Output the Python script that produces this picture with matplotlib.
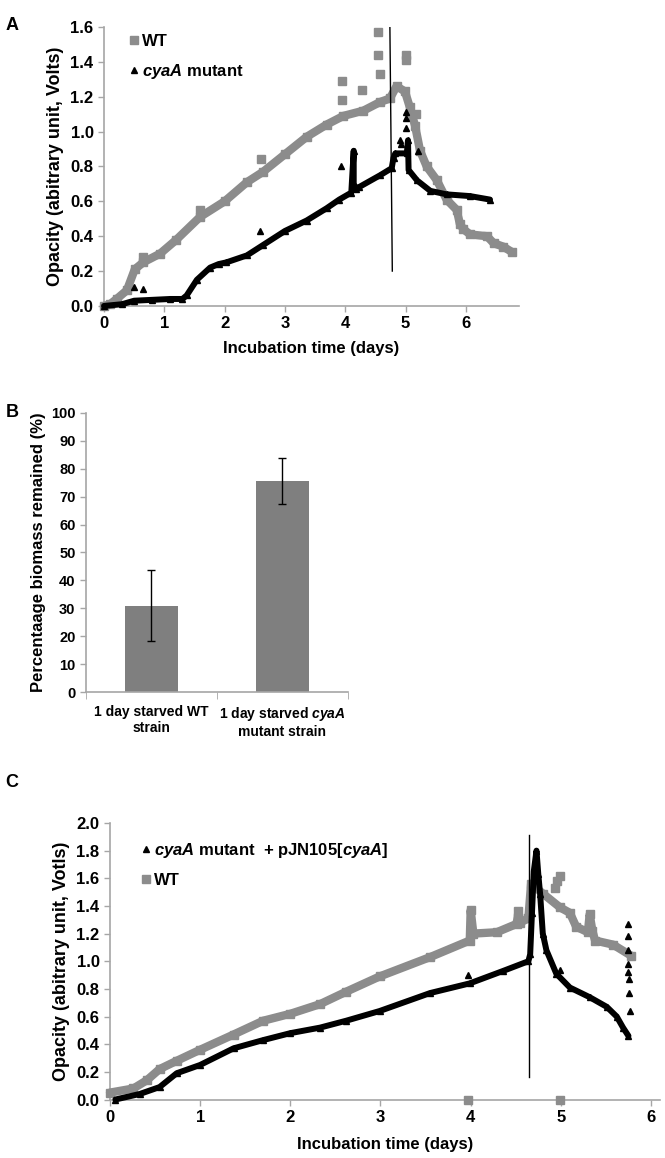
import matplotlib
import matplotlib.pyplot as plt
from matplotlib.lines import Line2D

matplotlib.use("Agg")

plt.rcParams["font.family"] = ["Liberation Sans", "DejaVu Sans"]
plt.rcParams["font.weight"] = "bold"
plt.rcParams["axes.labelweight"] = "bold"
plt.rcParams["mathtext.fontset"] = "custom"
plt.rcParams["mathtext.rm"] = "Liberation Sans:bold"
plt.rcParams["mathtext.it"] = "Liberation Sans:italic:bold"
plt.rcParams["mathtext.bf"] = "Liberation Sans:bold"

GREY = "#8c8c8c"
SPINE = "#a6a6a6"

# ---- panel A: opacity over time ----
wt_a_x = [0.0, 0.1, 0.21, 0.38, 0.51, 0.65, 0.93, 1.2, 1.59, 2.0, 2.37, 2.64, 3.0, 3.36,
          3.69, 3.97, 4.30, 4.58, 4.74, 4.85, 4.99, 5.07, 5.16, 5.24, 5.35, 5.52, 5.68,
          5.85, 5.90, 5.96, 6.07, 6.35, 6.46, 6.62, 6.76]
wt_a_y = [0.0, 0.01, 0.04, 0.09, 0.21, 0.25, 0.30, 0.38, 0.51, 0.60, 0.71, 0.77, 0.87, 0.97,
          1.04, 1.09, 1.12, 1.17, 1.19, 1.26, 1.23, 1.14, 1.03, 0.89, 0.80, 0.72, 0.61,
          0.55, 0.47, 0.44, 0.41, 0.40, 0.36, 0.34, 0.31]
wt_a_out_x = [0.65, 1.59, 2.61, 3.94, 3.95, 4.27, 4.55, 4.55, 4.58, 5.0, 5.0, 5.17]
wt_a_out_y = [0.28, 0.55, 0.84, 1.29, 1.18, 1.24, 1.57, 1.44, 1.33, 1.44, 1.41, 1.10]

cya_a_x = [0.0, 0.3, 0.5, 0.8, 1.1, 1.3, 1.37, 1.54, 1.76, 1.9, 2.03, 2.37, 2.64, 3.0,
           3.36, 3.69, 3.9, 4.1, 4.14, 4.14, 4.18, 4.22, 4.58, 4.77, 4.80, 4.83, 5.02,
           5.04, 5.05, 5.19, 5.41, 5.68, 6.07, 6.40]
cya_a_y = [0.0, 0.01, 0.03, 0.035, 0.04, 0.04, 0.06, 0.15, 0.22, 0.24, 0.25, 0.29, 0.35, 0.43,
           0.49, 0.56, 0.61, 0.65, 0.89, 0.70, 0.67, 0.68, 0.75, 0.79, 0.85, 0.875, 0.875,
           0.95, 0.78, 0.72, 0.66, 0.64, 0.63, 0.61]
cya_a_out_x = [0.5, 0.65, 2.59, 3.93, 4.9, 4.92, 5.0, 5.0, 5.0, 5.2]
cya_a_out_y = [0.11, 0.10, 0.43, 0.80, 0.95, 0.93, 1.11, 1.08, 1.02, 0.89]

a_vline_x = [4.74, 4.78]
a_vline_y = [1.6, 0.2]

# ---- panel B: biomass remaining ----
b_labels = ["1 day starved WT\nstrain", "1 day starved $\\mathit{cyaA}$\nmutant strain"]
b_values = [31.0, 75.6]
b_errors = [12.7, 8.4]

# ---- panel C: complemented strain ----
wt_c_x = [0.0, 0.26, 0.41, 0.55, 0.74, 1.0, 1.37, 1.70, 2.0, 2.33, 2.62, 2.99, 3.55, 3.99,
          4.0, 4.03, 4.29, 4.51, 4.53, 4.55, 4.64, 4.67, 4.80, 4.99, 5.10, 5.17, 5.30,
          5.32, 5.35, 5.38, 5.58, 5.78]
wt_c_y = [0.05, 0.08, 0.14, 0.22, 0.28, 0.36, 0.47, 0.57, 0.62, 0.69, 0.78, 0.89, 1.03, 1.15,
          1.37, 1.20, 1.21, 1.27, 1.36, 1.28, 1.31, 1.56, 1.49, 1.39, 1.35, 1.25, 1.21,
          1.34, 1.22, 1.15, 1.12, 1.04]
wt_c_out_x = [3.97, 4.93, 4.96, 4.99, 4.99]
wt_c_out_y = [0.0, 1.53, 1.58, 1.62, 0.0]

cya_c_x = [0.06, 0.33, 0.55, 0.74, 1.0, 1.37, 1.70, 2.0, 2.33, 2.62, 2.99, 3.55, 3.99, 4.36,
           4.64, 4.66, 4.68, 4.70, 4.73, 4.75, 4.77, 4.80, 4.84, 4.95, 5.10, 5.32, 5.51,
           5.62, 5.69, 5.75]
cya_c_y = [0.0, 0.04, 0.09, 0.19, 0.25, 0.37, 0.43, 0.48, 0.52, 0.57, 0.64, 0.77, 0.84, 0.93,
           1.0, 1.05, 1.35, 1.65, 1.80, 1.63, 1.49, 1.20, 1.08, 0.91, 0.81, 0.74, 0.67,
           0.60, 0.52, 0.46]
cya_c_out_x = [3.97, 4.99, 5.75, 5.75, 5.75, 5.75, 5.75, 5.76, 5.76, 5.77]
cya_c_out_y = [0.90, 0.94, 1.27, 1.18, 1.08, 0.98, 0.92, 0.87, 0.77, 0.64]

c_vline_x = [4.65, 4.65]
c_vline_y = [1.91, 0.16]


def style_axes(ax, size):
    for side in ("top", "right"):
        ax.spines[side].set_visible(False)
    for side in ("left", "bottom"):
        ax.spines[side].set_color(SPINE)
        ax.spines[side].set_linewidth(1.2)
    ax.tick_params(direction="out", length=4, color=SPINE, labelsize=size, width=1)


def draw_series(ax, x, y, ox, oy, color, marker, lw, ms):
    ax.plot(x, y, color=color, lw=lw, solid_joinstyle="round", solid_capstyle="round",
            marker=marker, ms=ms, clip_on=False, zorder=3)
    ax.plot(ox, oy, ls="none", color=color, marker=marker, ms=ms, clip_on=False, zorder=3)


def legend_handles(entries):
    return [Line2D([], [], ls="none", marker=m, color=c, ms=ms) for m, c, ms in entries]


fig = plt.figure(figsize=(6.65, 11.58), dpi=100)

# panel A
ax = fig.add_axes([0.1564, 0.7358, 0.624, 0.2409])
style_axes(ax, 12)
draw_series(ax, wt_a_x, wt_a_y, wt_a_out_x, wt_a_out_y, GREY, "s", 6.0, 5.5)
draw_series(ax, cya_a_x, cya_a_y, cya_a_out_x, cya_a_out_y, "black", "^", 4.3, 5)
ax.plot(a_vline_x, a_vline_y, color="black", lw=1, zorder=4)
ax.set_xlim(0, 6.88)
ax.set_ylim(0, 1.6)
ax.set_xticks(range(7))
ax.set_yticks([i * 0.2 for i in range(9)])
ax.set_yticklabels([f"{i * 0.2:.1f}" for i in range(9)])
ax.set_xlabel("Incubation time (days)", fontsize=12, labelpad=7)
ax.set_ylabel("Opacity (abitrary unit, Volts)", fontsize=13, labelpad=5)
ax.legend(legend_handles([("s", GREY, 5.5), ("^", "black", 5)]),
          ["WT", "$\\mathit{cyaA}$ mutant"], loc="upper left", bbox_to_anchor=(0.045, 1.0),
          frameon=False, handlelength=0.5, handletextpad=0.25, labelspacing=0.8,
          fontsize=12, borderaxespad=0)

# panel B
ax = fig.add_axes([0.1293, 0.4024, 0.394, 0.241])
style_axes(ax, 10.5)
ax.bar([0, 1], b_values, width=0.4, color="#7f7f7f", zorder=2)
ax.errorbar([0, 1], b_values, yerr=b_errors, fmt="none", ecolor="black", elinewidth=1,
            capsize=3, capthick=1, zorder=3)
ax.set_xlim(-0.5, 1.5)
ax.set_ylim(0, 100)
ax.set_yticks(range(0, 101, 10))
ax.set_xticks([0, 1])
ax.set_xticklabels(b_labels, fontsize=10)
ax.tick_params(axis="x", length=0, pad=9)
ax.set_xticks([-0.5, 0.5, 1.5], minor=True)
ax.tick_params(axis="x", which="minor", length=5, color=SPINE, direction="out")
ax.set_ylabel("Percentaage biomass remained (%)", fontsize=12, labelpad=4)

# panel C
ax = fig.add_axes([0.1654, 0.0505, 0.8271, 0.2388])
style_axes(ax, 12)
draw_series(ax, wt_c_x, wt_c_y, wt_c_out_x, wt_c_out_y, GREY, "s", 6.0, 5.5)
draw_series(ax, cya_c_x, cya_c_y, cya_c_out_x, cya_c_out_y, "black", "^", 4.3, 5)
ax.plot(c_vline_x, c_vline_y, color="black", lw=1, zorder=4)
ax.set_xlim(0, 6.1)
ax.set_ylim(0, 2.0)
ax.set_xticks(range(7))
ax.set_yticks([i * 0.2 for i in range(11)])
ax.set_yticklabels([f"{i * 0.2:.1f}" for i in range(11)])
ax.set_xlabel("Incubation time (days)", fontsize=12, labelpad=9)
ax.set_ylabel("Opacity (abitrary unit, Votls)", fontsize=13, labelpad=5)
ax.legend(legend_handles([("^", "black", 5), ("s", GREY, 5.5)]),
          ["$\\mathit{cyaA}$ mutant  + pJN105[$\\mathit{cyaA}$]", "WT"], loc="upper left",
          bbox_to_anchor=(0.045, 0.96), frameon=False, handlelength=0.5, handletextpad=0.25,
          labelspacing=0.8, fontsize=12, borderaxespad=0)

fig.text(0.008, 0.985, "A", fontsize=13, va="top")
fig.text(0.008, 0.651, "B", fontsize=13, va="top")
fig.text(0.008, 0.332, "C", fontsize=13, va="top")

fig.savefig("out.png", dpi=100)
